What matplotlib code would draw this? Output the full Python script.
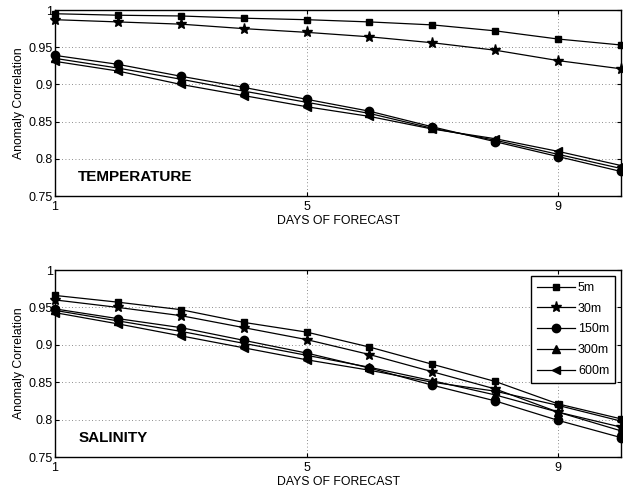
import matplotlib
matplotlib.use("Agg")
from matplotlib import pyplot as plt

plt.rcParams['font.family'] = ['Liberation Sans', 'DejaVu Sans']

days = [1, 2, 3, 4, 5, 6, 7, 8, 9, 10]
depths = ["5m", "30m", "150m", "300m", "600m"]
markers = ["s", "*", "o", "^", "<"]
msizes = [5, 8, 6, 6, 6]

temp = {
    "5m":   [0.995, 0.993, 0.992, 0.989, 0.987, 0.984, 0.980, 0.972, 0.961, 0.953],
    "30m":  [0.987, 0.984, 0.981, 0.975, 0.970, 0.964, 0.956, 0.946, 0.932, 0.921],
    "150m": [0.939, 0.927, 0.911, 0.896, 0.880, 0.864, 0.843, 0.823, 0.803, 0.783],
    "300m": [0.935, 0.922, 0.907, 0.891, 0.876, 0.861, 0.841, 0.825, 0.806, 0.787],
    "600m": [0.931, 0.918, 0.900, 0.885, 0.870, 0.857, 0.840, 0.827, 0.810, 0.791],
}
salt = {
    "5m":   [0.966, 0.957, 0.947, 0.930, 0.917, 0.897, 0.874, 0.851, 0.821, 0.801],
    "30m":  [0.960, 0.950, 0.939, 0.923, 0.907, 0.887, 0.864, 0.841, 0.810, 0.790],
    "150m": [0.948, 0.935, 0.923, 0.906, 0.889, 0.869, 0.846, 0.825, 0.799, 0.776],
    "300m": [0.946, 0.932, 0.918, 0.902, 0.886, 0.870, 0.852, 0.833, 0.810, 0.785],
    "600m": [0.943, 0.928, 0.912, 0.896, 0.880, 0.866, 0.850, 0.838, 0.819, 0.798],
}

yticks = [0.75, 0.8, 0.85, 0.9, 0.95, 1.0]
ytick_labels = ["0.75", "0.8", "0.85", "0.9", "0.95", "1"]
xticks = [1, 5, 9]

fig = plt.figure(figsize=(6.23, 4.91), dpi=100)
ax1 = fig.add_axes([0.0883, 0.6008, 0.9085, 0.3788])
ax2 = fig.add_axes([0.0883, 0.0692, 0.9085, 0.3809])

for ax, data, title in [(ax1, temp, "TEMPERATURE"), (ax2, salt, "SALINITY")]:
    for d, m, ms in zip(depths, markers, msizes):
        ax.plot(days, data[d], color="black", lw=0.9, marker=m, ms=ms,
                label=d, clip_on=False, zorder=3)
    ax.set_xlim(1, 10)
    ax.set_ylim(0.75, 1.0)
    ax.set_xticks(xticks)
    ax.set_xticklabels([str(x) for x in xticks], fontsize=9)
    ax.set_yticks(yticks)
    ax.set_yticklabels(ytick_labels, fontsize=9)
    ax.tick_params(direction="in", top=True, right=True, length=3, pad=1.5)
    ax.tick_params(axis="x", pad=3.5)
    ax.grid(True, linestyle=(0, (1, 3)), color="black", lw=0.6, alpha=0.6)
    ax.set_xlabel("DAYS OF FORECAST", fontsize=8.8, labelpad=1.5)
    ax.set_ylabel("Anomaly Correlation", fontsize=8.8, labelpad=3)
    for s in ax.spines.values():
        s.set_linewidth(1.0)
    ax.text(0.041, 0.10, title, transform=ax.transAxes, fontsize=11,
            fontweight="bold", va="center", ha="left")

leg = ax2.legend(loc="upper right", fontsize=9, borderaxespad=0.45,
                 fancybox=False, framealpha=1, edgecolor="black",
                 handlelength=3.0, labelspacing=0.7, handletextpad=0.25,
                 borderpad=0.5)
leg.get_frame().set_linewidth(1.0)

fig.savefig("out.png", dpi=100)
